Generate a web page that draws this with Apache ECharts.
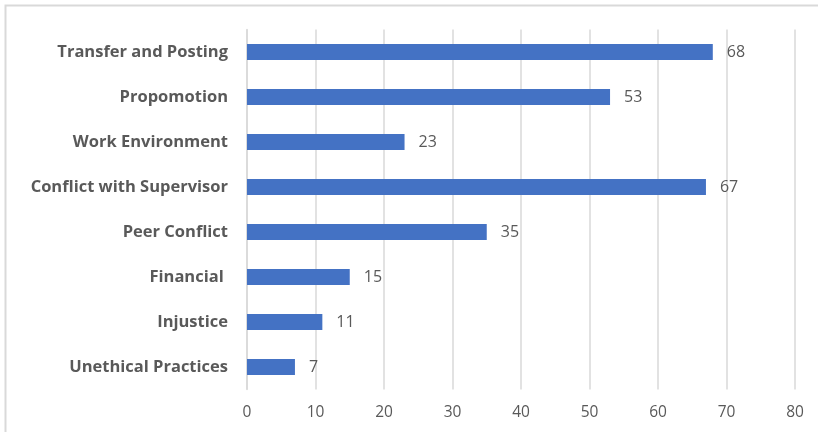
<!DOCTYPE html>
<html>
<head>
<meta charset="utf-8">
<script src="https://cdn.jsdelivr.net/npm/echarts@6/dist/echarts.min.js"></script>
<style>
  html, body { margin: 0; padding: 0; background: #fff; }
  #chart { width: 818px; height: 432px; }
</style>
</head>
<body>
<div id="chart"></div>
<script>
// Reasons listed top to bottom
const categories = [
  'Transfer and Posting',
  'Propomotion',
  'Work Environment',
  'Conflict with Supervisor',
  'Peer Conflict',
  'Financial ',
  'Injustice',
  'Unethical Practices'
];
const counts = [68, 53, 23, 67, 35, 15, 11, 7];
const axisTicks = [0, 10, 20, 30, 40, 50, 60, 70, 80];

const chart = echarts.init(document.getElementById('chart'));
chart.setOption({
  animation: false,
  backgroundColor: '#fff',
  graphic: [{
    type: 'rect',
    shape: { x: 5.5, y: 5.5, width: 830, height: 440 },
    style: { fill: 'none', stroke: '#d9d9d9', lineWidth: 2 },
    silent: true
  }],
  grid: { left: 247, right: 23, top: 29.5, bottom: 42.5, containLabel: false },
  xAxis: {
    type: 'value',
    min: axisTicks[0],
    max: axisTicks[axisTicks.length - 1],
    interval: axisTicks[1] - axisTicks[0],
    axisLine: { show: false },
    axisTick: { show: false },
    axisLabel: {
      color: '#595959',
      fontFamily: 'Open Sans',
      fontSize: 15.5,
      margin: 15
    },
    splitLine: { show: true, lineStyle: { color: '#d9d9d9', width: 1.5 } }
  },
  yAxis: {
    type: 'category',
    inverse: true,
    data: categories,
    axisLine: { show: true, lineStyle: { color: '#d9d9d9', width: 1.5 } },
    axisTick: { show: false },
    axisLabel: {
      color: '#595959',
      fontFamily: 'Open Sans',
      fontWeight: 'bold',
      fontSize: 16.5,
      margin: 19
    }
  },
  series: [{
    type: 'bar',
    data: counts,
    barWidth: 16,
    itemStyle: { color: '#4472C4' },
    label: {
      show: true,
      position: 'right',
      distance: 14,
      color: '#595959',
      fontFamily: 'Open Sans',
      fontSize: 16
    }
  }]
});
</script>
</body>
</html>
